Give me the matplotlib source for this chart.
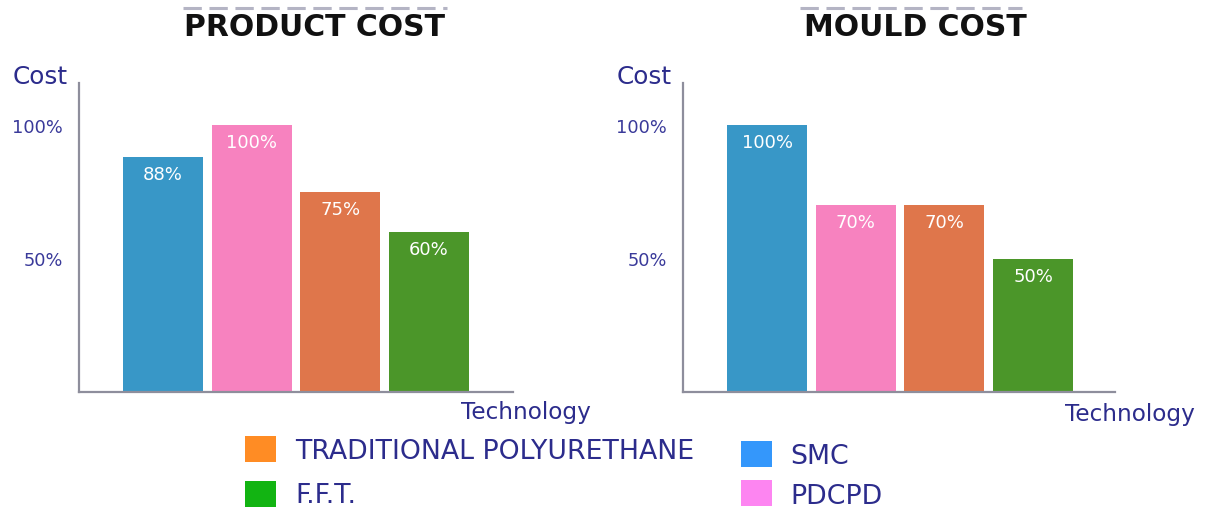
import matplotlib
matplotlib.use("Agg")
import matplotlib.pyplot as plt
from matplotlib.patches import Rectangle
from matplotlib.lines import Line2D

# ---- data ----
technologies = ["SMC", "PDCPD", "TRADITIONAL POLYURETHANE", "F.F.T."]
product_cost = [88, 100, 75, 60]
mould_cost = [100, 70, 70, 50]
bar_colors = ["#3897c7", "#f782bf", "#df764b", "#4b9629"]
legend_colors = {"TRADITIONAL POLYURETHANE": "#ff8c24", "F.F.T.": "#12b412",
                 "SMC": "#3497fb", "PDCPD": "#fd85f1"}
titles = ["PRODUCT COST", "MOULD COST"]
y_ticks = [50, 100]
y_tick_labels = ["50%", "100%"]

W, H = 1206, 510
fig = plt.figure(figsize=(W / 100, H / 100), dpi=100)
fig.patch.set_facecolor("white")

navy = "#2c2c8c"
spine_c = "#8e8e9c"


def fx(x):
    return x / W


def fy(y):
    return 1 - y / H


panels = [
    dict(left=79, right=513, values=product_cost, title=titles[0], tcx=315, cost_x=13, tech_x=526, tech_y=413,
         dash=(183, 447)),
    dict(left=683, right=1115, values=mould_cost, title=titles[1], tcx=915, cost_x=617, tech_x=1130, tech_y=415,
         dash=(800, 1022)),
]
top, bottom = 84, 393
px_per_unit = 88.7
first_center_off = 84

for p in panels:
    ax = fig.add_axes([fx(p["left"]), fy(bottom), (p["right"] - p["left"]) / W, (bottom - top) / H])
    ax.set_facecolor("none")
    x = list(range(len(technologies)))
    bars = ax.bar(x, p["values"], width=80 / px_per_unit, color=bar_colors, zorder=2)
    ax.set_xlim(-first_center_off / px_per_unit, (p["right"] - p["left"] - first_center_off) / px_per_unit)
    ax.set_ylim(0, (bottom - top) / 267 * 100)
    for b, v in zip(bars, p["values"]):
        ax.annotate(f"{v}%", (b.get_x() + b.get_width() / 2, v), xytext=(0, -12.5),
                    textcoords="offset points", ha="center", va="center",
                    color="white", fontsize=13)
    for s in ["top", "right"]:
        ax.spines[s].set_visible(False)
    for s in ["left", "bottom"]:
        ax.spines[s].set_color(spine_c)
        ax.spines[s].set_linewidth(1.6)
    ax.set_xticks([])
    ax.set_yticks(y_ticks)
    ax.set_yticklabels(y_tick_labels, color="#3a3a9a", fontsize=12.8)
    ax.tick_params(axis="y", length=0, pad=11.5)

    fig.text(fx(p["tcx"]), fy(28), p["title"], ha="center", va="center",
             fontsize=21.5, fontweight="bold", color="#111111")
    fig.add_artist(Line2D([fx(p["dash"][0]), fx(p["dash"][1])], [fy(9), fy(9)],
                          color="#b4b4c4", linewidth=2.2, linestyle=(0, (6, 2.5))))
    fig.text(fx(p["cost_x"]), fy(77), "Cost", ha="left", va="center", fontsize=17.8, color=navy)
    fig.text(fx(p["tech_x"]), fy(p["tech_y"]), "Technology", ha="center", va="center",
             fontsize=16.7, color=navy)

# ---- legend ----
legend_items = [
    ("TRADITIONAL POLYURETHANE", 245, 437, 295, 452),
    ("F.F.T.", 245, 482, 295, 496),
    ("SMC", 741, 442, 790, 457),
    ("PDCPD", 741, 481, 790, 497),
]
for name, px, py, tx, ty in legend_items:
    fig.add_artist(Rectangle((fx(px), fy(py + 26)), 31 / W, 26 / H,
                             facecolor=legend_colors[name], edgecolor="none", transform=fig.transFigure))
    fig.text(fx(tx), fy(ty), name, ha="left", va="center", fontsize=19.3, color=navy)

fig.savefig("out.png", dpi=100, facecolor="white")
